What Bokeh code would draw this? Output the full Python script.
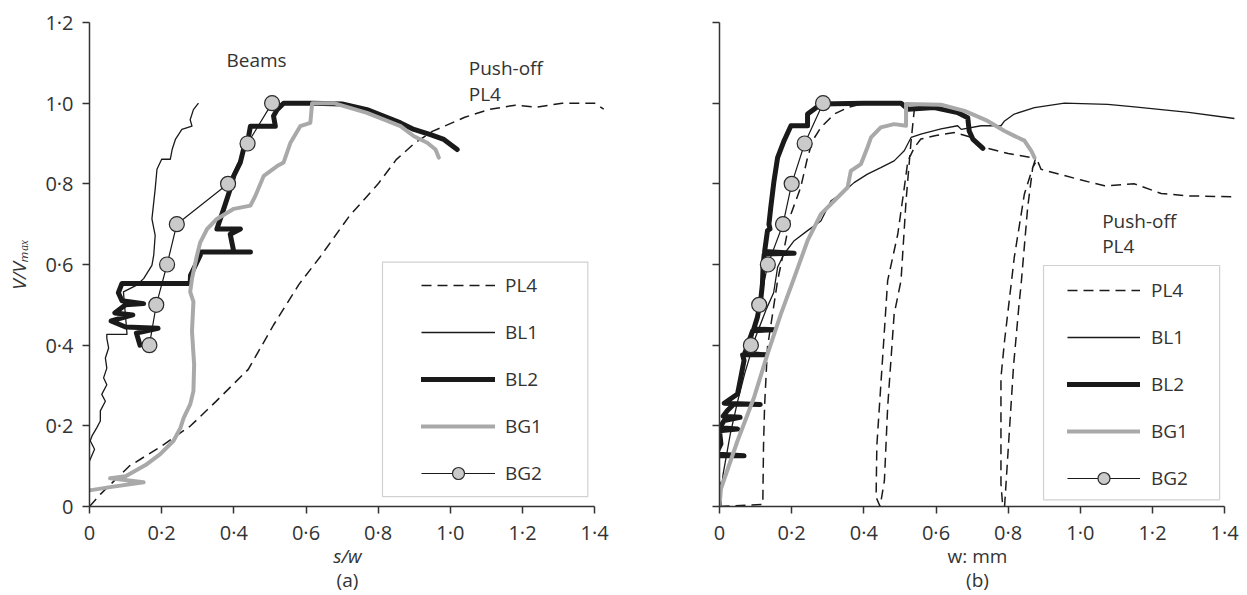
from bokeh.plotting import figure
from bokeh.models import (Range1d, FixedTicker, CustomJSTickFormatter, Legend,
                          LegendItem, Label, BoxAnnotation, LinearAxis)
from bokeh.layouts import row
from bokeh.embed import file_html
from bokeh.resources import INLINE

FONT = "Open Sans"
INK = "#333333"
BLACK = "#1a1a1a"
GREY = "#a9a9a9"
MARKER_FILL = "#cacaca"
FS = "19px"
TICK_FS = "20px"

# ---------------- (a) normalised load against slip / crack width ----------------
pl4_s = [0.0, 0.03, 0.11, 0.20, 0.28, 0.35, 0.44, 0.51, 0.58, 0.64, 0.72, 0.80,
         0.85, 0.90, 0.95, 1.04, 1.11, 1.18, 1.24, 1.31, 1.40, 1.425]
pl4_v_a = [0.0, 0.03, 0.10, 0.15, 0.20, 0.26, 0.34, 0.45, 0.55, 0.62, 0.72, 0.80,
           0.86, 0.90, 0.93, 0.965, 0.985, 0.995, 0.99, 1.0, 1.0, 0.985]

bl1_s = [0.0, 0.014, 0.002, 0.007, 0.02, 0.03, 0.03, 0.044, 0.034, 0.048,
         0.039, 0.048, 0.044, 0.053, 0.048, 0.048, 0.104, 0.10, 0.094, 0.131,
         0.15, 0.173, 0.178, 0.182, 0.173, 0.178, 0.182, 0.187, 0.20, 0.224,
         0.229, 0.238, 0.256, 0.284, 0.279, 0.288, 0.302]
bl1_v_a = [0.113, 0.142, 0.163, 0.175, 0.195, 0.212, 0.237, 0.261, 0.278, 0.302,
           0.319, 0.343, 0.368, 0.393, 0.417, 0.427, 0.427, 0.47, 0.532, 0.549,
           0.565, 0.598, 0.623, 0.672, 0.713, 0.754, 0.787, 0.836, 0.861, 0.861,
           0.885, 0.91, 0.935, 0.943, 0.959, 0.984, 1.0]

bl2_s = [0.14, 0.13, 0.19, 0.10, 0.06, 0.12, 0.07, 0.10, 0.15, 0.09,
         0.08, 0.09, 0.279, 0.28, 0.307, 0.307, 0.446, 0.40, 0.39, 0.418,
         0.353, 0.372, 0.39, 0.40, 0.418, 0.427, 0.437, 0.441, 0.446, 0.515,
         0.51, 0.52, 0.538, 0.62, 0.70, 0.769, 0.862, 0.899, 0.945, 0.982,
         1.019]
bl2_v_a = [0.40, 0.43, 0.442, 0.445, 0.46, 0.475, 0.48, 0.50, 0.503, 0.51,
           0.53, 0.553, 0.553, 0.573, 0.623, 0.631, 0.631, 0.631, 0.675, 0.688,
           0.688, 0.738, 0.787, 0.82, 0.853, 0.886, 0.902, 0.918, 0.943, 0.943,
           0.968, 0.984, 1.0, 1.0, 0.998, 0.984, 0.951, 0.935, 0.922, 0.91,
           0.885]

bg1_s = [0.0, 0.057, 0.15, 0.057, 0.10, 0.159, 0.196, 0.233, 0.252, 0.261,
         0.279, 0.288, 0.29, 0.284, 0.288, 0.279, 0.284, 0.298, 0.307, 0.326,
         0.353, 0.40, 0.446, 0.46, 0.483, 0.52, 0.538, 0.557, 0.584, 0.612,
         0.617, 0.677, 0.769, 0.862, 0.899, 0.936, 0.959, 0.968]
bg1_v_a = [0.04, 0.048, 0.06, 0.07, 0.075, 0.105, 0.13, 0.163, 0.195, 0.22,
           0.253, 0.286, 0.352, 0.434, 0.508, 0.532, 0.565, 0.623, 0.655, 0.688,
           0.713, 0.738, 0.746, 0.771, 0.82, 0.844, 0.853, 0.902, 0.943, 0.951,
           1.0, 1.0, 0.976, 0.943, 0.918, 0.902, 0.885, 0.865]

bg2_s = [0.166, 0.185, 0.215, 0.242, 0.384, 0.438, 0.506]
bg2_v_a = [0.4, 0.5, 0.6, 0.7, 0.8, 0.9, 1.0]

# ---------------- (b) normalised load against crack width, mm ----------------
pl4_w = [0.0, 0.12, 0.122, 0.125, 0.133, 0.147, 0.161, 0.175, 0.198, 0.225,
         0.244, 0.258, 0.281, 0.318, 0.355, 0.392, 0.45, 0.50, 0.54, 0.531,
         0.517, 0.503, 0.484, 0.466, 0.457, 0.445, 0.434, 0.436, 0.443, 0.457,
         0.466, 0.494, 0.512, 0.522, 0.54, 0.558, 0.60, 0.651, 0.70, 0.734,
         0.80, 0.864, 0.875, 0.845, 0.817, 0.79, 0.78, 0.78, 0.785, 0.79,
         0.80, 0.815, 0.83, 0.836, 0.854, 0.868, 0.88, 0.891, 0.95, 1.0,
         1.067, 1.15, 1.224, 1.30, 1.427]
pl4_v_b = [0.0, 0.005, 0.15, 0.25, 0.395, 0.477, 0.56, 0.62, 0.725, 0.791,
           0.865, 0.907, 0.94, 0.973, 0.989, 0.998, 1.0, 0.997, 0.985, 0.907,
           0.758, 0.56, 0.477, 0.246, 0.064, 0.0, 0.023, 0.15, 0.246, 0.436,
           0.56, 0.675, 0.79, 0.857, 0.89, 0.911, 0.92, 0.927, 0.915, 0.89,
           0.875, 0.865, 0.86, 0.775, 0.618, 0.411, 0.32, 0.056, 0.0, 0.0,
           0.14, 0.35, 0.5, 0.552, 0.741, 0.84, 0.86, 0.836, 0.822, 0.81,
           0.795, 0.80, 0.776, 0.77, 0.768]

bl1_w = [0.0, 0.01, 0.03, 0.05, 0.07, 0.10, 0.13, 0.15, 0.161, 0.179,
         0.207, 0.244, 0.281, 0.309, 0.337, 0.373, 0.41, 0.447, 0.484, 0.512,
         0.531, 0.558, 0.614, 0.66, 0.67, 0.725, 0.78, 0.79, 0.817, 0.873,
         0.956, 1.076, 1.15, 1.30, 1.427]
bl1_v_b = [0.0, 0.08, 0.18, 0.26, 0.33, 0.42, 0.49, 0.53, 0.593, 0.626,
           0.659, 0.684, 0.708, 0.758, 0.775, 0.803, 0.824, 0.84, 0.857, 0.882,
           0.915, 0.923, 0.936, 0.944, 0.935, 0.944, 0.944, 0.956, 0.973, 0.989,
           1.0, 0.997, 0.991, 0.977, 0.962]

bl2_w = [0.0, 0.0, -0.015, -0.02, -0.02, 0.068, -0.01, 0.004, 0.0, 0.05,
         0.0, 0.013, 0.057, 0.01, 0.022, 0.04, 0.113, 0.013, 0.05, 0.059,
         0.068, 0.064, 0.128, 0.07, 0.082, 0.092, 0.153, 0.095, 0.105, 0.115,
         0.119, 0.121, 0.124, 0.207, 0.125, 0.133, 0.14, 0.137, 0.142, 0.151,
         0.161, 0.179, 0.198, 0.244, 0.244, 0.262, 0.281, 0.40, 0.503, 0.522,
         0.595, 0.66, 0.688, 0.692, 0.702, 0.73]
bl2_v_b = [0.0, 0.048, 0.089, 0.114, 0.126, 0.126, 0.13, 0.155, 0.188, 0.192,
           0.195, 0.213, 0.221, 0.224, 0.238, 0.254, 0.253, 0.256, 0.279, 0.32,
           0.362, 0.376, 0.376, 0.38, 0.411, 0.436, 0.438, 0.44, 0.469, 0.518,
           0.552, 0.60, 0.626, 0.628, 0.632, 0.684, 0.688, 0.70, 0.741, 0.807,
           0.865, 0.907, 0.944, 0.944, 0.973, 0.985, 0.998, 1.0, 1.0, 0.985,
           0.989, 0.977, 0.964, 0.931, 0.911, 0.888]

bg1_w = [0.0, 0.004, 0.05, 0.096, 0.133, 0.17, 0.207, 0.244, 0.281, 0.318,
         0.355, 0.364, 0.392, 0.41, 0.42, 0.447, 0.484, 0.517, 0.517, 0.614,
         0.679, 0.743, 0.79, 0.817, 0.845, 0.864, 0.873]
bg1_v_b = [0.0, 0.044, 0.163, 0.271, 0.378, 0.477, 0.567, 0.659, 0.725, 0.758,
           0.791, 0.832, 0.849, 0.89, 0.915, 0.94, 0.948, 0.944, 0.998, 0.996,
           0.981, 0.956, 0.931, 0.919, 0.907, 0.882, 0.865]

bg2_w = [0.087, 0.11, 0.134, 0.176, 0.20, 0.236, 0.287]
bg2_v_b = [0.4, 0.5, 0.6, 0.7, 0.8, 0.9, 1.0]

X_TICKS = [0, 0.2, 0.4, 0.6, 0.8, 1.0, 1.2, 1.4]
Y_TICKS = [0, 0.2, 0.4, 0.6, 0.8, 1.0, 1.2]
SERIES = ["PL4", "BL1", "BL2", "BG1", "BG2"]

DOT_CODE = "return tick === 0 ? '0' : tick.toFixed(1).replace('.', '\\u00b7');"


def make_panel(width, left, right, top, bottom, xlabel, xitalic, caption,
               ylabel=None):
    p = figure(width=width, height=595, x_range=Range1d(0, 1.43),
               y_range=Range1d(0, 1.2), output_backend="svg",
               toolbar_location=None, min_border_left=left,
               min_border_right=right, min_border_top=top,
               min_border_bottom=bottom)
    p.grid.visible = False
    p.outline_line_color = None
    p.background_fill_color = "white"
    p.border_fill_color = "white"
    for ax in (p.xaxis[0], p.yaxis[0]):
        ax.axis_line_color = INK
        ax.axis_line_width = 1.5
        ax.major_tick_line_color = INK
        ax.major_tick_line_width = 1.5
        ax.major_tick_out = 7
        ax.major_tick_in = 0
        ax.minor_tick_line_color = None
        ax.major_label_text_font = FONT
        ax.major_label_text_font_size = TICK_FS
        ax.major_label_text_color = INK
        ax.axis_label_text_font = FONT
        ax.axis_label_text_font_size = FS
        ax.axis_label_text_color = INK
        ax.formatter = CustomJSTickFormatter(code=DOT_CODE)
    p.xaxis.ticker = FixedTicker(ticks=X_TICKS)
    p.xaxis.bounds = (0, 1.4)
    p.xaxis.major_label_standoff = 5
    p.xaxis.axis_label = xlabel
    p.xaxis.axis_label_standoff = -6
    p.xaxis.axis_label_text_font_style = "italic" if xitalic else "normal"
    p.yaxis.ticker = FixedTicker(ticks=Y_TICKS)
    p.yaxis.bounds = (0, 1.2)
    p.yaxis.major_label_standoff = 9
    if ylabel is None:
        p.yaxis.formatter = CustomJSTickFormatter(code="return '';")
    else:
        p.yaxis.axis_label = ylabel
        p.yaxis.axis_label_standoff = 10
        p.yaxis.axis_label_text_font_style = "italic"

    # panel caption, carried by a bare second axis under the first one
    cap = LinearAxis(ticker=FixedTicker(ticks=[]), bounds=(0, 1.4),
                     axis_line_color=None, major_tick_line_color=None,
                     minor_tick_line_color=None, major_tick_out=0,
                     major_tick_in=0, minor_tick_out=0, minor_tick_in=0,
                     major_label_standoff=0, major_label_text_font_size="0px",
                     axis_label=caption, axis_label_standoff=-5,
                     axis_label_text_font=FONT, axis_label_text_font_size=FS,
                     axis_label_text_color=INK,
                     axis_label_text_font_style="normal")
    p.add_layout(cap, "below")
    return p


def draw_series(p, data):
    (x0, y0), (x1, y1), (x2, y2), (x3, y3), (x4, y4) = data
    r0 = p.line(x0, y0, line_color=BLACK, line_width=1.5, line_dash="10 6")
    r1 = p.line(x1, y1, line_color=BLACK, line_width=1.3, line_join="round")
    r2 = p.line(x2, y2, line_color=BLACK, line_width=5, line_join="round",
                line_cap="round")
    r3 = p.line(x3, y3, line_color=GREY, line_width=4, line_join="round",
                line_cap="round")
    r4 = p.line(x4, y4, line_color=BLACK, line_width=1.2)
    r5 = p.scatter(x4, y4, marker="circle", size=15, fill_color=MARKER_FILL,
                   line_color="#2a2a2a", line_width=1.2)
    return [[r0], [r1], [r2], [r3], [r4, r5]]


def add_legend(p, groups, loc, glyph_width, standoff, box):
    items = [LegendItem(label=name, renderers=rs) for name, rs in zip(SERIES, groups)]
    leg = Legend(items=items, location=loc, glyph_width=glyph_width,
                 glyph_height=30, label_height=30, spacing=17, padding=0,
                 margin=0, label_standoff=standoff, label_text_font=FONT,
                 label_text_font_size=FS, label_text_color=INK,
                 background_fill_alpha=0, border_line_alpha=0)
    p.add_layout(leg)
    left, right, top, bottom = box
    p.add_layout(BoxAnnotation(left=left, right=right, top=top, bottom=bottom,
                               fill_alpha=0, line_color="#666666",
                               line_width=1.2))


def note(p, x, y, s, align="left"):
    p.add_layout(Label(x=x, y=y, text=s, text_font=FONT, text_font_size=FS,
                       text_color=INK, text_align=align,
                       text_baseline="middle"))


# ---- panel (a) ----
pa = make_panel(623, 89, 18, 19, 89, "s/w", True, "(a)",
                ylabel="V/V\u2098\u2090\u2093")
groups_a = draw_series(pa, [(pl4_s, pl4_v_a), (bl1_s, bl1_v_a), (bl2_s, bl2_v_a),
                            (bg1_s, bg1_v_a), (bg2_s, bg2_v_a)])
add_legend(pa, groups_a, (332, 18), 74, 10, (0.812, 1.381, 0.606, 0.0246))
note(pa, 0.463, 1.107, "Beams", align="center")
note(pa, 1.051, 1.087, "Push-off")
note(pa, 1.051, 1.023, "PL4")

# ---- panel (b) ----
pb = make_panel(624, 96, 12, 22, 89, "w: mm", False, "(b)")
groups_b = draw_series(pb, [(pl4_w, pl4_v_b), (bl1_w, bl1_v_b), (bl2_w, bl2_v_b),
                            (bg1_w, bg1_v_b), (bg2_w, bg2_v_b)])
add_legend(pb, groups_b, (348, 13), 73, 11, (0.898, 1.386, 0.5975, 0.0166))
note(pb, 1.0605, 0.709, "Push-off")
note(pb, 1.0605, 0.645, "PL4")

layout = row(pa, pb)
open("out.html", "w", encoding="utf-8").write(file_html(layout, INLINE))
